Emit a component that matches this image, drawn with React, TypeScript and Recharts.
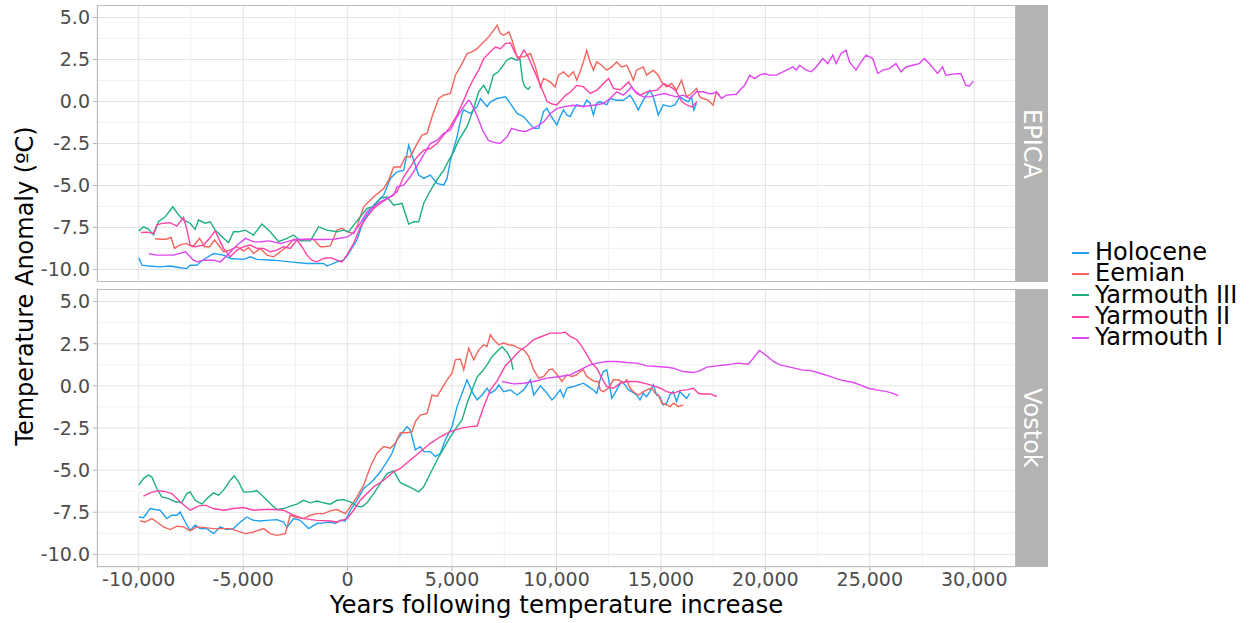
import { LineChart, Line, XAxis, YAxis, ReferenceLine, CartesianGrid } from 'recharts';

type Pt = [number, number];

// years after the warming onset, temperature anomaly (ºC)
const epicaHolocene: Pt[] = [
  [-10000, -9.3], [-9850, -9.75], [-9500, -9.8], [-9000, -9.85], [-8500, -9.8], [-8000, -9.9], [-7700, -9.95],
  [-7540, -9.75], [-7220, -9.75], [-7000, -9.5], [-6420, -9.05], [-5940, -9.15], [-5620, -9.35], [-4980, -9.4],
  [-4660, -9.25], [-4340, -9.4], [-3545, -9.45], [-2750, -9.55], [-1950, -9.65], [-1150, -9.65], [-990, -9.8],
  [-510, -9.55], [-190, -9.45], [0, -9.15], [447, -8.25], [767, -7.06], [1246, -6.17], [1725, -5.58], [2044, -4.58],
  [2364, -4.19], [2683, -4.1], [2923, -2.6], [3082, -3.2], [3402, -4.38], [3641, -4.58], [3960, -4.38], [4280, -4.88],
  [4600, -4.98], [4760, -4.58], [4920, -3.5], [5240, -2.1], [5478, -0.71], [5558, -0.5], [5877, -0.71], [6196, -0.3],
  [6356, 0.18], [6675, -0.3], [6835, -0.02], [7155, 0.18], [7554, 0.28], [7794, -0.12], [8113, -0.71], [8432, -0.91],
  [8911, -1.6], [9151, -1.6], [9380, -0.6], [9540, -0.4], [9700, -0.8], [9860, -1.1], [10016, -1.4], [10175, -0.9],
  [10334, -0.5], [10494, -0.8], [10653, -0.9], [10812, -0.5], [10971, -0.2], [11290, -0.3], [11449, 0.08],
  [11608, -0.1], [11767, -0.8], [11926, -0.1], [12086, 0], [12404, -0.2], [12563, 0.18], [12882, 0.08], [13200, 0.08],
  [13518, 0.38], [13677, 0.08], [13916, -0.5], [14155, 0.08], [14314, 0.38], [14474, 0.67], [14633, 0.28],
  [14872, -0.8], [15110, -0.2], [15429, -0.3], [15668, -0.2], [15906, 0.28], [16145, 0.08], [16304, -0.02],
  [16464, 0.28], [16575, -0.5], [16702, -0.1],
];

const epicaEemian: Pt[] = [
  [-9220, -8.17], [-8930, -8.2], [-8690, -8.2], [-8450, -8.1], [-8290, -8.75], [-8050, -8.55], [-7730, -8.45],
  [-7410, -8.65], [-7090, -8.15], [-6850, -8.65], [-6610, -8.65], [-6370, -8.25], [-5940, -8.95], [-5620, -8.85],
  [-5300, -8.65], [-4980, -8.9], [-4740, -8.7], [-4500, -9.05], [-4180, -8.75], [-3860, -9.15], [-3545, -9.25],
  [-3225, -8.95], [-2905, -8.65], [-2590, -8.2], [-2270, -8.25], [-1950, -8.2], [-1630, -8.2], [-1310, -8.65],
  [-1150, -8.65], [-830, -8.6], [-510, -7.65], [-270, -7.55], [-30, -7.75], [290, -7.85], [447, -7.45], [767, -6.27],
  [1246, -5.67], [1725, -5.18], [1965, -4.68], [2204, -3.9], [2524, -3.9], [2763, -3.3], [3003, -3.3], [3242, -2.7],
  [3562, -2.0], [3801, -1.9], [4041, -0.91], [4360, 0.18], [4600, 0.38], [4920, 0.48], [5160, 1.57], [5478, 2.26],
  [5718, 2.86], [5957, 2.96], [6196, 3.15], [6516, 3.55], [6755, 3.85], [6995, 4.25], [7155, 4.54], [7315, 4.05],
  [7474, 3.95], [7714, 4.15], [7874, 3.65], [8113, 2.66], [8432, 2.66], [8752, 2.86], [8991, 2.06], [9231, 0.87],
  [9380, 1.37], [9540, 1.27], [9700, 1.17], [9936, 0.87], [10096, 1.57], [10334, 1.77], [10573, 1.47], [10812, 1.77],
  [10971, 1.27], [11130, 1.77], [11290, 2.36], [11449, 3.05], [11608, 2.36], [11767, 1.87], [11926, 2.36],
  [12165, 2.16], [12404, 1.87], [12643, 2.06], [12882, 2.36], [13120, 2.06], [13359, 2.16], [13518, 1.77],
  [13677, 1.27], [13836, 1.87], [14155, 2.06], [14314, 1.57], [14633, 1.87], [14872, 1.57], [15031, 1.17],
  [15270, 0.87], [15509, 1.07], [15747, 0.67], [15986, 1.27], [16225, 0.28], [16464, 0.48], [16702, 0.77],
  [16861, 0.28], [17020, 0.18], [17259, 0.08], [17498, -0.22], [17657, 0.58], [17816, 0.38],
];

const epicaYarmouth3: Pt[] = [
  [-10000, -7.72], [-9776, -7.46], [-9537, -7.6], [-9297, -7.95], [-9057, -7.16], [-8738, -6.87], [-8370, -6.27],
  [-8099, -6.75], [-7859, -7.06], [-7540, -7.25], [-7300, -7.62], [-7140, -7.06], [-6820, -7.25], [-6580, -7.16],
  [-6340, -7.66], [-6021, -8.06], [-5701, -8.4], [-5462, -7.76], [-5222, -7.76], [-4902, -7.66], [-4504, -7.95],
  [-4104, -7.3], [-3705, -7.76], [-3306, -8.35], [-2906, -8.15], [-2587, -7.95], [-2268, -8.3], [-1789, -8.3],
  [-1389, -7.46], [-990, -7.66], [-511, -7.76], [-192, -7.66], [48, -7.76], [287, -7.36], [607, -6.87], [926, -6.37],
  [1246, -6.27], [1565, -5.77], [1884, -5.67], [2204, -6.17], [2603, -6.07], [2923, -7.3], [3162, -7.16],
  [3402, -7.16], [3641, -6.07], [3960, -5.3], [4360, -4.5], [4600, -4.1], [4839, -3.5], [5078, -3.0], [5318, -2.3],
  [5717, -1.5], [6037, -0.4], [6276, 0.6], [6516, 0.97], [6734, 0.48], [6973, 1.57], [7212, 1.77], [7451, 2.16],
  [7610, 2.46], [7850, 2.6], [8087, 2.46], [8247, 2.56], [8374, 1.27], [8485, 0.87], [8645, 0.73], [8752, 0.9],
];

const epicaYarmouth2: Pt[] = [
  [-9900, -7.8], [-9600, -7.78], [-9297, -7.86], [-9137, -7.36], [-8897, -7.26], [-8500, -7.22], [-8180, -7.42],
  [-7860, -6.9], [-7700, -7.6], [-7540, -8.55], [-7300, -8.65], [-6900, -8.55], [-6580, -8.1], [-6340, -7.7],
  [-6180, -8.15], [-5940, -8.75], [-5620, -9.25], [-5300, -8.85], [-4980, -8.65], [-4660, -8.55], [-4340, -8.75],
  [-4020, -8.75], [-3705, -8.95], [-3386, -8.85], [-3066, -8.65], [-2747, -8.75], [-2427, -8.25], [-2188, -8.65],
  [-1948, -9.15], [-1709, -9.45], [-1469, -9.55], [-1150, -9.35], [-830, -9.3], [-511, -9.45], [-271, -9.55],
  [-32, -9.15], [287, -8.45], [607, -7.46], [926, -6.87], [1246, -6.37], [1565, -6.07], [2044, -5.67], [2364, -5.37],
  [2683, -4.48], [3003, -3.89], [3322, -3.3], [3641, -2.9], [3960, -2.8], [4280, -2.5], [4600, -2.0], [4920, -1.5],
  [5240, -0.81], [5558, 0.08], [5797, 0.77], [6037, 1.37], [6276, 1.87], [6516, 2.56], [6835, 2.96], [7075, 3.25],
  [7315, 3.15], [7554, 3.45], [7794, 3.5], [7954, 3.06], [8193, 2.5], [8432, 3.06], [8592, 2.8], [8911, 1.9],
  [9231, 0.97], [9550, 0.0], [9800, -0.15], [10000, -0.2], [10200, 0.05], [10450, 0.4], [10657, 0.55],
  [10977, 0.97], [11296, 0.87], [11616, 0.48], [11936, 0.68], [12255, 1.07], [12495, 1.37], [12735, 0.77],
  [13054, 0.7], [13454, 1.17], [13694, 0.68], [14013, 0.38], [14333, 0.58], [14813, 0.68], [15133, 1.07],
  [15452, 0.87], [15692, 0.68], [16012, -0.02], [16252, -0.22], [16491, -0.32], [16731, 0.0],
];

const epicaYarmouth1: Pt[] = [
  [-9520, -9.07], [-9137, -9.15], [-8337, -9.15], [-7766, -8.95], [-7380, -9.45], [-7205, -9.55], [-6900, -9.45],
  [-6420, -9.45], [-6088, -9.55], [-5686, -9.05], [-5288, -8.55], [-4886, -8.15], [-4490, -8.36], [-4180, -8.35],
  [-3769, -8.3], [-3210, -8.46], [-2651, -8.26], [-2268, -8.2], [-1760, -8.22], [-1150, -8.22], [-645, -8.2],
  [0, -8.06], [287, -7.8], [607, -7.26], [926, -6.57], [1246, -6.27], [1565, -5.97], [1884, -5.77], [2204, -5.58],
  [2364, -5.08], [2683, -4.98], [3003, -4.48], [3482, -3.5], [3960, -2.5], [4280, -2.3], [4600, -1.9], [4920, -1.7],
  [5240, -0.91], [5558, -0.32], [5780, 0.08], [5877, 0.0], [6177, -0.8], [6495, -1.8], [6734, -2.3], [6915, -2.4],
  [7290, -2.5], [7634, -2.1], [7850, -1.6], [8113, -1.7], [8485, -1.8], [9043, -1.5], [9390, -1.21], [9710, -0.71],
  [10016, -0.42], [10334, -0.32], [10812, -0.22], [11290, -0.3], [11767, -0.22], [12245, -0.12], [12563, 0.18],
  [12882, 0.58], [13200, 0.38], [13438, 0.67], [13597, 0.87], [13836, 0.48], [14155, 0.28], [14474, 0.28],
  [14792, 0.38], [15190, 0.48], [15429, 0.38], [15747, 0.28], [16066, 0.38], [16384, 0.18], [16702, 0.58],
  [17020, 0.58], [17259, 0.48], [17498, 0.48], [17657, 0.58], [17896, 0.18], [18135, 0.38], [18613, 0.43],
  [18772, 0.67], [19010, 0.97], [19250, 1.57], [19489, 1.37], [19727, 1.57], [19966, 1.67], [20205, 1.57],
  [20523, 1.57], [20841, 1.77], [21159, 1.96], [21319, 2.06], [21478, 1.87], [21637, 2.16], [21955, 1.87],
  [22194, 1.77], [22433, 2.06], [22751, 2.56], [22990, 2.26], [23229, 2.76], [23388, 2.26], [23627, 2.86],
  [23866, 3.06], [24025, 2.36], [24343, 1.87], [24582, 2.36], [24821, 2.76], [25140, 2.56], [25379, 1.67],
  [25617, 1.87], [25936, 1.96], [26254, 2.26], [26493, 1.77], [26732, 2.06], [27050, 2.16], [27369, 2.26],
  [27608, 2.56], [27847, 2.26], [28245, 1.67], [28483, 2.06], [28643, 1.57], [28961, 1.63], [29359, 1.67],
  [29598, 0.97], [29757, 0.91], [29964, 1.23],
];

const vostokHolocene: Pt[] = [
  [-10000, -7.78], [-9776, -7.82], [-9457, -7.28], [-9217, -7.34], [-8978, -7.38], [-8658, -7.88], [-8419, -7.68],
  [-8179, -7.68], [-8020, -7.48], [-7780, -8.08], [-7540, -8.57], [-7300, -8.27], [-7061, -8.47], [-6741, -8.47],
  [-6422, -8.77], [-6103, -8.37], [-5783, -8.53], [-5464, -8.47], [-5222, -8.17], [-4823, -7.78], [-4504, -7.98],
  [-4184, -8.02], [-3865, -7.98], [-3386, -7.94], [-3066, -8.08], [-2907, -8.41], [-2587, -7.88], [-2268, -7.98],
  [-1869, -8.47], [-1469, -8.17], [-1150, -8.13], [-830, -8.08], [-591, -8.17], [-351, -7.98], [-112, -8.02],
  [128, -7.38], [447, -6.79], [767, -6.09], [1166, -5.69], [1565, -5.1], [1884, -4.5], [2124, -4.0], [2364, -3.2],
  [2603, -2.8], [2843, -2.42], [3003, -2.62], [3242, -3.8], [3482, -3.61], [3641, -3.9], [3960, -3.9], [4200, -4.2],
  [4440, -4.0], [4680, -3.2], [5000, -2.42], [5240, -1.23], [5478, -0.44], [5717, 0.36], [5957, -0.34],
  [6196, -0.83], [6436, -0.54], [6675, -0.14], [6835, -0.44], [7075, -0.24], [7234, 0.06], [7474, -0.34],
  [7794, -0.24], [8113, -0.54], [8432, -0.24], [8752, 0.36], [8911, -0.54], [9231, 0.0], [9550, -0.44],
  [9780, -0.83], [9940, -0.64], [10175, -0.24], [10334, -0.67], [10494, -0.14], [10653, -0.08], [10812, -0.04],
  [11050, 0.06], [11290, 0.16], [11530, -0.04], [11767, -0.24], [11926, -0.44], [12086, 0.36], [12245, 0.85],
  [12406, 0.95], [12500, 0.36], [12643, -0.73], [12800, -0.44], [12960, -0.04], [13120, 0.26], [13280, 0.06],
  [13440, -0.24], [13600, -0.34], [13836, -0.54], [13995, -0.83], [14155, -0.44], [14314, -0.64], [14474, -0.34],
  [14633, 0.06], [14792, -0.54], [14951, -0.64], [15110, -1.13], [15270, -1.03], [15429, -0.54], [15588, -0.34],
  [15747, -0.94], [15906, -0.34], [16065, -0.54], [16225, -0.74], [16384, -0.44],
];

const vostokEemian: Pt[] = [
  [-9940, -8.02], [-9700, -8.08], [-9377, -7.88], [-9137, -8.08], [-8818, -8.37], [-8500, -8.53], [-8179, -8.33],
  [-7860, -8.37], [-7540, -8.61], [-7220, -8.37], [-6820, -8.41], [-6422, -8.47], [-6021, -8.47], [-5620, -8.47],
  [-5300, -8.61], [-4900, -8.77], [-4500, -8.67], [-4020, -8.47], [-3705, -8.77], [-3386, -8.87], [-2986, -8.77],
  [-2747, -7.68], [-2427, -7.82], [-2108, -7.88], [-1789, -7.68], [-1469, -7.58], [-1150, -7.58], [-830, -7.42],
  [-511, -7.34], [-112, -7.58], [128, -7.18], [447, -6.59], [767, -5.89], [1086, -4.8], [1406, -4.0], [1725, -3.6],
  [2044, -3.7], [2284, -3.41], [2524, -2.78], [2843, -2.78], [3082, -2.72], [3242, -2.12], [3482, -1.73],
  [3801, -1.63], [4041, -0.54], [4280, -0.63], [4520, -0.14], [4760, 0.36], [5000, 0.75], [5160, 1.55], [5400, 1.59],
  [5558, 0.95], [5797, 2.24], [6037, 1.55], [6276, 2.14], [6516, 2.44], [6675, 2.34], [6835, 3.04], [6995, 2.74],
  [7234, 2.44], [7474, 2.54], [7714, 2.44], [7954, 2.4], [8193, 2.24], [8432, 2.14], [8672, 1.75], [8911, 0.95],
  [9151, 0.46], [9390, 0.56], [9630, 0.95], [9800, 1.0], [10096, 0.56], [10255, 0.26], [10494, 0.65], [10733, 0.56],
  [10971, 0.65], [11130, 0.85], [11290, 0.95], [11449, 0.56], [11688, 0.36], [11847, 0.26], [12006, 0.26],
  [12086, -0.24], [12245, -0.34], [12488, -0.14], [12727, 0.36], [12967, 0.36], [13200, 0.16], [13365, 0.36],
  [13525, -0.14], [13764, -0.44], [13924, -0.54], [14163, -0.34], [14322, -0.24], [14562, -0.14], [14721, -0.44],
  [14880, -0.54], [15040, -1.03], [15279, -1.13], [15439, -1.23], [15598, -1.03], [15838, -1.23], [16077, -1.13],
];

const vostokYarmouth3: Pt[] = [
  [-10000, -5.89], [-9776, -5.5], [-9537, -5.3], [-9377, -5.4], [-9137, -6.09], [-8897, -6.59], [-8578, -6.69],
  [-8259, -6.88], [-7940, -6.94], [-7700, -6.39], [-7540, -6.29], [-7300, -6.79], [-6980, -7.02], [-6740, -6.69],
  [-6420, -6.35], [-6180, -6.49], [-5940, -6.19], [-5620, -5.6], [-5430, -5.34], [-5222, -5.69], [-4980, -6.29],
  [-4660, -6.29], [-4340, -6.23], [-4020, -6.59], [-3705, -6.98], [-3386, -7.34], [-3066, -7.28], [-2747, -7.14],
  [-2427, -7.02], [-2108, -6.79], [-1789, -6.94], [-1469, -6.83], [-1150, -6.94], [-830, -7.02], [-511, -6.79],
  [-192, -6.75], [128, -6.88], [447, -7.14], [687, -7.18], [926, -6.94], [1246, -6.39], [1565, -5.79], [1884, -5.2],
  [2204, -5.04], [2524, -5.75], [3003, -6.03], [3402, -6.29], [3641, -5.99], [3960, -5.2], [4280, -4.4],
  [4600, -3.71], [4920, -3.02], [5240, -2.42], [5478, -2.02], [5717, -1.03], [5957, -0.24], [6196, 0.52],
  [6436, 0.85], [6675, 1.25], [6915, 1.75], [7155, 2.04], [7394, 2.32], [7634, 2.0], [7826, 1.55], [7922, 0.95],
];

const vostokYarmouth2: Pt[] = [
  [-9776, -6.55], [-9457, -6.35], [-9137, -6.23], [-8818, -6.25], [-8419, -6.39], [-8020, -6.88], [-7540, -7.38],
  [-7140, -7.14], [-6820, -7.08], [-6422, -7.28], [-5942, -7.38], [-5462, -7.28], [-4982, -7.22], [-4503, -7.38],
  [-4024, -7.34], [-3545, -7.34], [-3066, -7.38], [-2587, -7.68], [-2108, -7.88], [-1469, -7.98], [-830, -8.02],
  [-511, -8.08], [-32, -7.88], [287, -7.38], [607, -6.79], [926, -6.39], [1246, -5.99], [1725, -5.6], [2204, -5.1],
  [2524, -4.9], [3003, -4.4], [3482, -3.91], [3960, -3.41], [4440, -3.02], [4920, -2.72], [5400, -2.52],
  [5877, -2.42], [6196, -2.38], [6516, -1.23], [6835, -0.24], [7155, 0.3], [7554, 1.2], [7874, 1.6], [8193, 2.04],
  [8592, 2.4], [8911, 2.74], [9231, 2.9], [9700, 3.13], [10175, 3.13], [10414, 3.19], [10653, 2.94], [10971, 2.74],
  [11211, 2.34], [11451, 1.85], [11690, 1.35], [11930, 1.05], [12170, 0.46], [12408, -0.04], [12727, -0.14],
  [13046, 0.16], [13365, 0.26], [13844, 0.26], [14322, 0.12], [14641, 0], [14960, -0.14], [15279, -0.34],
  [15598, -0.44], [15917, -0.28], [16236, -0.24], [16555, -0.14], [16795, -0.44], [16954, -0.48], [17353, -0.48],
  [17672, -0.63],
];

const vostokYarmouth1: Pt[] = [
  [7394, 0.26], [7954, 0.12], [8432, 0.16], [8911, 0.26], [9560, 0.46], [10175, 0.56], [10653, 0.65], [11130, 0.95],
  [11610, 1.25], [11930, 1.35], [12408, 1.45], [12887, 1.45], [13365, 1.39], [13844, 1.35], [14322, 1.19],
  [14800, 1.15], [15279, 1.11], [15598, 1.05], [16077, 0.85], [16555, 0.79], [16874, 0.91], [17193, 1.11],
  [17672, 1.19], [18150, 1.25], [18709, 1.35], [19187, 1.29], [19426, 1.65], [19713, 2.1], [20064, 1.79],
  [20383, 1.45], [20702, 1.25], [21181, 1.11], [21739, 0.95], [22218, 0.89], [22617, 0.75], [23095, 0.56],
  [23574, 0.36], [24212, 0.2], [24531, 0.06], [24930, -0.14], [25330, -0.24], [25808, -0.34], [26127, -0.44],
  [26366, -0.6],
];

const seriesNames = ['Holocene', 'Eemian', 'Yarmouth III', 'Yarmouth II', 'Yarmouth I'];
const seriesColors = ['#1FA0F0', '#F4645C', '#1DAF84', '#FF42A4', '#DF45F2'];

const xTicks = [-10000, -5000, 0, 5000, 10000, 15000, 20000, 25000, 30000];
const xMinor = [-7500, -2500, 2500, 7500, 12500, 17500, 22500, 27500];
const yTicks = [-10, -7.5, -5, -2.5, 0, 2.5, 5];
const yMinor = [-8.75, -6.25, -3.75, -1.25, 1.25, 3.75];

const X_DOMAIN: [number, number] = [-12000, 32000];
const Y_DOMAIN: [number, number] = [-10.75, 5.75];

const FONT = '"DejaVu Sans", sans-serif';
const PLOT_L = 97;
const PLOT_R = 1016;

const toRows = (pts: Pt[]) => pts.map(([yr, t]) => ({ yr, t }));

function Panel({ series, showX, height }: { series: Pt[][]; showX: boolean; height: number }) {
  return (
    <LineChart width={PLOT_R} height={height} margin={{ top: 0, right: 0, bottom: 0, left: 0 }}>
      <CartesianGrid stroke="#E3E3E3" strokeWidth={1} />
      {xMinor.map(v => <ReferenceLine key={'x' + v} x={v} stroke="#F1F1F1" strokeWidth={1} />)}
      {yMinor.map(v => <ReferenceLine key={'y' + v} y={v} stroke="#F1F1F1" strokeWidth={1} />)}
      <XAxis
        type="number"
        dataKey="yr"
        domain={X_DOMAIN}
        ticks={xTicks}
        allowDataOverflow
        hide={!showX}
        height={showX ? 30 : 0}
        axisLine={false}
        tickSize={4}
        tickLine={{ stroke: '#B3B3B3' }}
        tick={{ fill: '#4D4D4D', fontSize: 19, fontFamily: FONT }}
        tickFormatter={(v: number) => v.toLocaleString('en-US')}
        interval={0}
      />
      <YAxis
        type="number"
        domain={Y_DOMAIN}
        ticks={yTicks}
        allowDataOverflow
        width={PLOT_L}
        axisLine={false}
        tickSize={4}
        tickMargin={3}
        tickLine={{ stroke: '#B3B3B3' }}
        tick={{ fill: '#4D4D4D', fontSize: 19, fontFamily: FONT }}
        tickFormatter={(v: number) => v.toFixed(1)}
        interval={0}
      />
      {series.map((pts, i) => (
        <Line
          key={seriesNames[i]}
          data={toRows(pts)}
          dataKey="t"
          type="linear"
          stroke={seriesColors[i]}
          strokeWidth={1.4}
          dot={false}
          activeDot={false}
          isAnimationActive={false}
        />
      ))}
    </LineChart>
  );
}

function Strip({ top, height, label }: { top: number; height: number; label: string }) {
  return (
    <div style={{
      position: 'absolute', left: PLOT_R, top, width: 32, height, background: '#B3B3B3',
      display: 'flex', alignItems: 'center', justifyContent: 'center',
    }}>
      <span style={{ writingMode: 'vertical-rl', color: '#FFFFFF', fontSize: 24, fontFamily: FONT, lineHeight: 1 }}>
        {label}
      </span>
    </div>
  );
}

export default function App() {
  const epica = [epicaHolocene, epicaEemian, epicaYarmouth3, epicaYarmouth2, epicaYarmouth1];
  const vostok = [vostokHolocene, vostokEemian, vostokYarmouth3, vostokYarmouth2, vostokYarmouth1];
  const frame = { position: 'absolute' as const, border: '1px solid #BDBDBD', boxSizing: 'border-box' as const, pointerEvents: 'none' as const };

  return (
    <div style={{ position: 'absolute', left: 0, top: 0, width: 1252, height: 623, background: '#FFFFFF', fontFamily: FONT, overflow: 'hidden' }}>
      <div style={{ position: 'absolute', left: 0, top: 5 }}>
        <Panel series={epica} showX={false} height={277} />
      </div>
      <div style={{ position: 'absolute', left: 0, top: 289 }}>
        <Panel series={vostok} showX height={308} />
      </div>
      <div style={{ ...frame, left: PLOT_L, top: 5, width: PLOT_R - PLOT_L, height: 277 }} />
      <div style={{ ...frame, left: PLOT_L, top: 289, width: PLOT_R - PLOT_L, height: 278 }} />
      <Strip top={5} height={277} label="EPICA" />
      <Strip top={289} height={278} label="Vostok" />

      <div style={{
        position: 'absolute', left: 25, top: 286, transform: 'translate(-50%, -50%) rotate(-90deg)',
        fontSize: 24, whiteSpace: 'nowrap', color: '#000',
      }}>
        Temperature Anomaly (ºC)
      </div>
      <div style={{
        position: 'absolute', left: (PLOT_L + PLOT_R) / 2, top: 604, transform: 'translate(-50%, -50%)',
        fontSize: 24.4, whiteSpace: 'nowrap', color: '#000',
      }}>
        Years following temperature increase
      </div>

      <div style={{ position: 'absolute', left: 1072, top: 242 }}>
        {seriesNames.map((name, i) => (
          <div key={name} style={{ display: 'flex', alignItems: 'center', height: 21.3 }}>
            <div style={{ width: 17, height: 2, background: seriesColors[i], marginRight: 6 }} />
            <span style={{ fontSize: 24, lineHeight: '21px', height: 21, color: '#000', whiteSpace: 'nowrap' }}>{name}</span>
          </div>
        ))}
      </div>
    </div>
  );
}
